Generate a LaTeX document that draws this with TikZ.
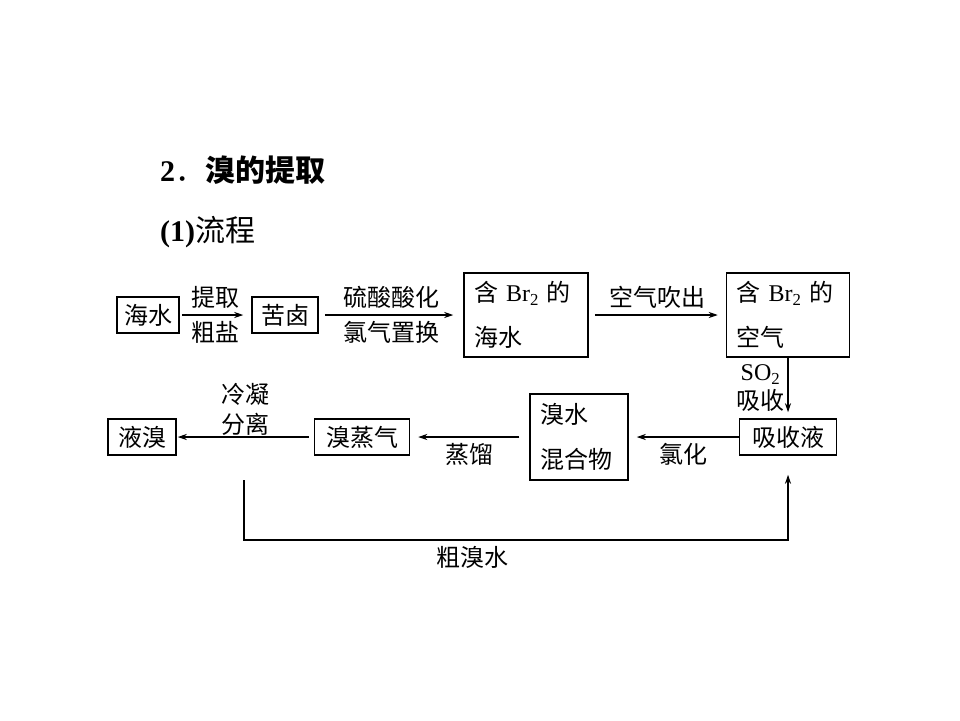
\documentclass[tikz,border=0pt]{standalone}
\usepackage{fontspec}
\setmainfont{Liberation Serif}
\newfontfamily\cjk{Noto Sans CJK SC}
\usetikzlibrary{arrows.meta}

\newcommand\zh{\cjk\fontsize{24}{28}\selectfont}

\begin{document}
\begin{tikzpicture}[
  x=1pt, y=-1pt,
  box/.style={draw, line width=1.5pt, inner sep=0pt, font=\zh},
  tallbox/.style={box, align=left, inner xsep=10pt, minimum height=84pt,
    font=\cjk\fontsize{24}{45}\selectfont},
  lbl/.style={font=\zh, inner sep=6pt},
  flow/.style={-{Stealth[length=9pt, width=6pt]}, line width=1.1pt},
]
\useasboundingbox (0,0) rectangle (960,720);

% heading
\node[anchor=west, inner sep=0pt, font=\cjk\fontsize{30}{34}\selectfont]
  (head) at (160,170) {{\rmfamily\bfseries 2}．\textbf{溴的提取}};
\node[anchor=west, inner sep=0pt, font=\cjk\fontsize{30}{34}\selectfont]
  (sub) at (160,232) {{\rmfamily\bfseries (1)}流程};

% top row
\node[box, minimum width=62pt, minimum height=36pt] (sea) at (148,315) {海水};
\node[box, minimum width=66pt, minimum height=36pt] (brine) at (285,315) {苦卤};
\node[tallbox, text width=104pt] (brsea) at (526,315)
  {含 {\rmfamily Br\textsubscript{2}} 的\\海水};
\node[tallbox, text width=103pt] (brair) at (788,315)
  {含 {\rmfamily Br\textsubscript{2}} 的\\空气};

% bottom row
\node[box, minimum width=97pt, minimum height=36pt] (absorb) at (788,437) {吸收液};
\node[tallbox, text width=78pt, minimum height=86pt] (mix) at (579,437)
  {溴水\\混合物};
\node[box, minimum width=95pt, minimum height=36pt] (vapor) at (362,437) {溴蒸气};
\node[box, minimum width=68pt, minimum height=36pt] (liquid) at (142,437) {液溴};

\coordinate (crude) at (244,480);
\coordinate (turn) at (244,540);

\draw[flow, shorten <=2pt, shorten >=8pt] (sea) -- (brine)
  node[midway, above, lbl] {提取} node[midway, below, lbl] {粗盐};
\draw[flow, shorten <=6pt, shorten >=10pt] (brine) -- (brsea)
  node[midway, above, lbl] {硫酸酸化} node[midway, below, lbl] {氯气置换};
\draw[flow, shorten <=6pt, shorten >=8pt] (brsea) -- (brair)
  node[midway, above, lbl] {空气吹出};
\draw[flow, shorten >=6pt] (brair) -- (absorb)
  node[midway, left, lbl, inner sep=3pt, align=center, font=\cjk\fontsize{24}{29}\selectfont]
  {{\rmfamily SO\textsubscript{2}}\\吸收};
\draw[flow, shorten >=8pt] (absorb) -- (mix)
  node[midway, below, lbl] {氯化};
\draw[flow, shorten <=10pt, shorten >=8pt] (mix) -- (vapor)
  node[midway, below, lbl] {蒸馏};
\draw[flow, shorten <=5pt, shorten >=1pt] (vapor) -- (liquid)
  node[midway, above, lbl, inner sep=1pt, align=center, font=\cjk\fontsize{24}{30}\selectfont]
  {冷凝\\分离};
\draw[flow, shorten >=19pt] (crude) -- (turn) -| (absorb)
  node[pos=0.21, below, lbl] {粗溴水};
\end{tikzpicture}
\end{document}
